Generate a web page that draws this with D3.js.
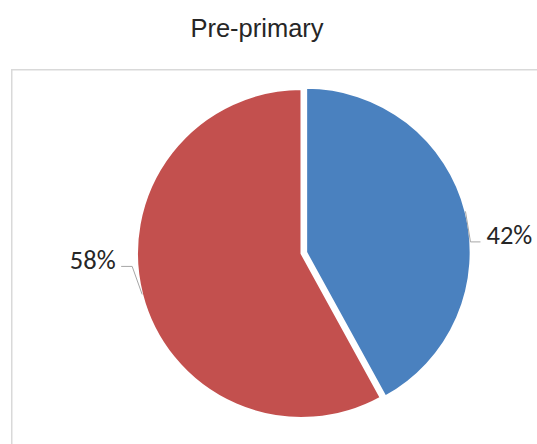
<!DOCTYPE html>
<html>
<head>
<meta charset="utf-8">
<script src="https://cdn.jsdelivr.net/npm/d3@7"></script>
<style>
html,body{margin:0;padding:0;background:#fff;}
svg{display:block;}
</style>
</head>
<body>
<svg id="chart" width="537" height="444"></svg>
<script>
const title = "Pre-primary";
const categories = ["Female", "Male"];
const values = [42, 58];
const labels = ["42%", "58%"];
const colors = ["#4a81bf", "#c3504e"];
const explode = [4.8, 0];

const svg = d3.select("#chart");

// title
svg.append("text")
  .attr("x", 257).attr("y", 37)
  .attr("text-anchor", "middle")
  .attr("font-family", "Liberation Sans, Arial, sans-serif")
  .attr("font-size", 25.5)
  .attr("fill", "#262626")
  .text(title);

// plot frame
svg.append("rect")
  .attr("x", 11.75).attr("y", 69.75)
  .attr("width", 600).attr("height", 500)
  .attr("fill", "none")
  .attr("stroke", "#d9d9d9")
  .attr("stroke-width", 1.5);

const cx = 301.5, cy = 253.5, r = 164.5;
const pie = d3.pie().sort(null).value(d => d)(values);
const arc = d3.arc().innerRadius(0).outerRadius(r);

const g = svg.append("g").attr("transform", `translate(${cx},${cy})`);

pie.forEach((p, i) => {
  const mid = (p.startAngle + p.endAngle) / 2;
  const ox = explode[i] * Math.sin(mid), oy = -explode[i] * Math.cos(mid);
  g.append("path")
    .attr("d", arc(p))
    .attr("transform", `translate(${ox},${oy})`)
    .attr("fill", colors[i])
    .attr("stroke", "#fff")
    .attr("stroke-width", 2)
    .attr("stroke-linejoin", "miter");

  // leader line + label
  const ex = ox + r * Math.sin(mid), ey = oy - r * Math.cos(mid);
  const right = Math.sin(mid) > 0;
  let elbow, end, tx, ty;
  if (right) {
    elbow = [ex + 5, ey + 30.5];
    end = [elbow[0] + 10, elbow[1]];
    tx = end[0] + 6; ty = elbow[1] + 2;
  } else {
    elbow = [ex - 10, ey - 28];
    end = [elbow[0] - 11, elbow[1]];
    tx = end[0] - 5.5; ty = elbow[1] + 2.5;
  }
  g.append("polyline")
    .attr("points", [[ex, ey], elbow, end].map(q => q.join(",")).join(" "))
    .attr("fill", "none")
    .attr("stroke", "#a6a6a6")
    .attr("stroke-width", 1);
  g.append("text")
    .attr("x", tx).attr("y", ty)
    .attr("text-anchor", right ? "start" : "end")
    .attr("font-family", "Carlito, Liberation Sans, Arial, sans-serif")
    .attr("font-size", 26.5)
    .attr("fill", "#262626")
    .text(labels[i]);
});
</script>
</body>
</html>
